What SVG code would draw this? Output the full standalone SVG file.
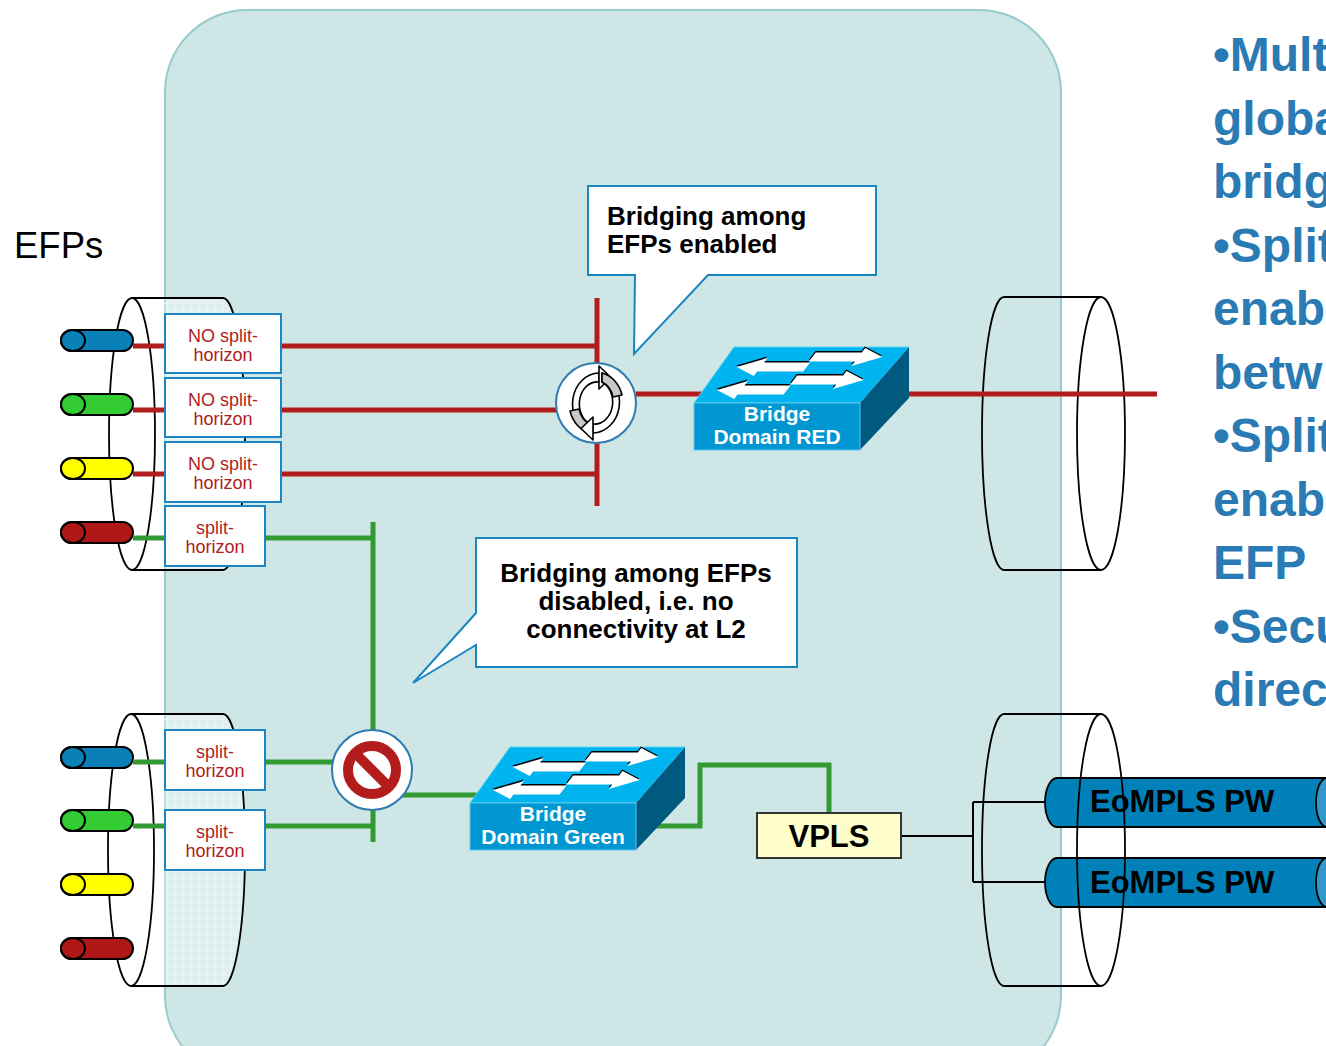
<svg xmlns="http://www.w3.org/2000/svg" width="1326" height="1046" viewBox="0 0 1326 1046">
  <style>
    .lbl { font-family: "Liberation Sans", Arial, sans-serif; }
    .box { fill: #ffffff; stroke: #1a86c0; stroke-width: 2; }
    .boxtxt { font-family: "Liberation Sans", Arial, sans-serif; font-size: 18px; fill: #b01c1c; text-anchor: middle; }
    .cyl { fill: none; stroke: #000; stroke-width: 1.8; }
    .efp { stroke: #000; stroke-width: 2; }
    .red { fill: none; stroke: #b21c1c; stroke-width: 5; }
    .grn { fill: none; stroke: #339933; stroke-width: 5; }
    .blk { fill: none; stroke: #000; stroke-width: 2; }
    .callout { fill: #ffffff; stroke: #1a86c0; stroke-width: 2; }
    .cotxt { font-family: "Liberation Sans", Arial, sans-serif; font-size: 26px; font-weight: bold; fill: #000; }
    .swtxt { font-family: "Liberation Sans", Arial, sans-serif; font-size: 21px; font-weight: bold; fill: #ffffff; text-anchor: middle; }
    .pw { fill: #0080b8; stroke: #000; stroke-width: 1.8; }
    .pwtxt { font-family: "Liberation Sans", Arial, sans-serif; font-size: 31px; font-weight: bold; fill: #000; }
    .side { font-family: "Liberation Sans", Arial, sans-serif; font-size: 48px; font-weight: bold; fill: #2a7ab4; }
    .ring { fill: #ffffff; stroke: #2d7bb0; stroke-width: 2; }
  </style>
  <defs>
    <pattern id="grid" width="8" height="8" patternUnits="userSpaceOnUse">
      <rect width="8" height="8" fill="#ffffff" fill-opacity="0.35"/>
      <path d="M8 0V8M0 8H8" stroke="#ffffff" stroke-width="1" stroke-opacity="0.7"/>
    </pattern>
    <!-- arrow pointing left, tip at origin -->
    <polygon id="arrL" points="0,0 24,-9 24,-4.5 70,-4.5 70,4.5 24,4.5 24,9"/>
    <!-- switch icon: front face top-left at (0,56) -->
    <g id="switch">
      <polygon points="40,0 215,0 166,56 0,56" fill="#00b4f0" stroke="#5fd0f5" stroke-width="1"/>
      <polygon points="166,56 215,0 215,51 166,103" fill="#005a80"/>
      <rect x="0" y="56" width="166" height="47" fill="#0096d2" stroke="#5fc6ee" stroke-width="1"/>
      <g transform="translate(42,0) skewX(-37.5)">
        <g fill="#000">
          <use href="#arrL" transform="translate(14.5,18.5)"/>
          <use href="#arrL" transform="translate(12.5,41.5)"/>
          <use href="#arrL" transform="translate(152.5,8.5) rotate(180)"/>
          <use href="#arrL" transform="translate(151.5,31.5) rotate(180)"/>
        </g>
        <g fill="#ffffff">
          <use href="#arrL" transform="translate(16,20)"/>
          <use href="#arrL" transform="translate(14,43)"/>
          <use href="#arrL" transform="translate(154,10) rotate(180)"/>
          <use href="#arrL" transform="translate(153,33) rotate(180)"/>
        </g>
      </g>
    </g>
    <!-- one half of the circular-arrows glyph -->
    <g id="halfLoop" stroke="#000" stroke-width="1.6" stroke-linejoin="round">
      <path d="M 3 -30 A 27 31 0 0 0 -6 30 L -6 21 A 18 22 0 0 1 3 -21 Z" fill="#ffffff"/>
      <path d="M -26 8 A 27 31 0 0 0 -6 30 L -6 21 A 18 22 0 0 1 -17 6 Z" fill="#c8c8c8"/>
      <polygon points="3,-37 15,-25.5 3,-14" fill="#ffffff"/>
    </g>
  </defs>

  <!-- device boundary -->
  <rect id="device" x="165" y="10" width="896" height="1068" rx="82" fill="#cfe6e7" stroke="#96cccc" stroke-width="2"/>

  <!-- upper-right port cylinder -->
  <g id="port-right-upper" class="cyl">
    <path d="M1004 297 A22 136.5 0 0 0 1004 570 H1101"/>
    <path d="M1004 297 H1101"/>
    <ellipse cx="1101" cy="433.5" rx="24" ry="136.5"/>
  </g>

  <!-- left port cylinders -->
  <g id="port-left-upper">
    <path d="M132 298 H223 A22 136 0 0 1 223 570 H132 Z" fill="url(#grid)" stroke="#000" stroke-width="1.8"/>
    <ellipse cx="132" cy="434" rx="23" ry="136" fill="#ffffff" stroke="#000" stroke-width="1.8"/>
  </g>
  <g id="port-left-lower">
    <path d="M132 714 H223 A22 136 0 0 1 223 986 H132 Z" fill="url(#grid)" stroke="#000" stroke-width="1.8"/>
    <ellipse cx="131" cy="850" rx="23" ry="136" fill="#ffffff" stroke="#000" stroke-width="1.8"/>
  </g>

  <!-- EFP tubes -->
  <g id="efp-upper-blue" class="efp" fill="#0a80b8"><rect x="61" y="330" width="72" height="21" rx="10.5"/><ellipse cx="73" cy="340.5" rx="12" ry="10.5"/></g>
  <g id="efp-upper-green" class="efp" fill="#33cc33"><rect x="61" y="394" width="72" height="21" rx="10.5"/><ellipse cx="73" cy="404.5" rx="12" ry="10.5"/></g>
  <g id="efp-upper-yellow" class="efp" fill="#ffff00"><rect x="61" y="458" width="72" height="21" rx="10.5"/><ellipse cx="73" cy="468.5" rx="12" ry="10.5"/></g>
  <g id="efp-upper-red" class="efp" fill="#b01818"><rect x="61" y="522" width="72" height="21" rx="10.5"/><ellipse cx="73" cy="532.5" rx="12" ry="10.5"/></g>
  <g id="efp-lower-blue" class="efp" fill="#0a80b8"><rect x="61" y="747" width="72" height="21" rx="10.5"/><ellipse cx="73" cy="757.5" rx="12" ry="10.5"/></g>
  <g id="efp-lower-green" class="efp" fill="#33cc33"><rect x="61" y="810" width="72" height="21" rx="10.5"/><ellipse cx="73" cy="820.5" rx="12" ry="10.5"/></g>
  <g id="efp-lower-yellow" class="efp" fill="#ffff00"><rect x="61" y="874" width="72" height="21" rx="10.5"/><ellipse cx="73" cy="884.5" rx="12" ry="10.5"/></g>
  <g id="efp-lower-red" class="efp" fill="#b01818"><rect x="61" y="938" width="72" height="21" rx="10.5"/><ellipse cx="73" cy="948.5" rx="12" ry="10.5"/></g>

  <!-- connectors -->
  <g id="connectors">
    <path class="red" d="M133 346 H597 M133 410 H597 M133 474 H597 M597 298 V506"/>
    <path class="red" d="M636 394 H1157"/>
    <path class="grn" d="M133 538 H373 M373 522 V842"/>
    <path class="grn" d="M133 762 H372 M133 826 H373"/>
    <path class="grn" d="M372 795 H500"/>
    <path class="grn" d="M620 826 H700 V765 H829 V813"/>
    <path class="blk" d="M901 836 H973 M973 802 V882 M973 802 H1046 M973 882 H1046"/>
  </g>

  <!-- split-horizon markers -->
  <g id="sh-1"><rect class="box" x="165" y="314" width="116" height="59"/><text class="boxtxt" x="223" y="342">NO split-</text><text class="boxtxt" x="223" y="361">horizon</text></g>
  <g id="sh-2"><rect class="box" x="165" y="378" width="116" height="59"/><text class="boxtxt" x="223" y="406">NO split-</text><text class="boxtxt" x="223" y="425">horizon</text></g>
  <g id="sh-3"><rect class="box" x="165" y="442" width="116" height="60"/><text class="boxtxt" x="223" y="470">NO split-</text><text class="boxtxt" x="223" y="489">horizon</text></g>
  <g id="sh-4"><rect class="box" x="165" y="506" width="100" height="60"/><text class="boxtxt" x="215" y="534">split-</text><text class="boxtxt" x="215" y="553">horizon</text></g>
  <g id="sh-5"><rect class="box" x="165" y="730" width="100" height="60"/><text class="boxtxt" x="215" y="758">split-</text><text class="boxtxt" x="215" y="777">horizon</text></g>
  <g id="sh-6"><rect class="box" x="165" y="810" width="100" height="60"/><text class="boxtxt" x="215" y="838">split-</text><text class="boxtxt" x="215" y="857">horizon</text></g>

  <!-- bridging enabled glyph -->
  <g id="bridging-on" transform="translate(596,403)">
    <circle class="ring" r="40"/>
    <use href="#halfLoop"/>
    <use href="#halfLoop" transform="rotate(180)"/>
  </g>

  <!-- bridging disabled glyph -->
  <g id="bridging-off" transform="translate(372,770)">
    <circle class="ring" r="40"/>
    <circle r="24" fill="none" stroke="#b21c1c" stroke-width="10"/>
    <line x1="-17" y1="-17" x2="17" y2="17" stroke="#b21c1c" stroke-width="10"/>
  </g>

  <!-- bridge domains -->
  <g id="bd-red">
    <use href="#switch" transform="translate(694,347)"/>
    <text class="swtxt" x="777" y="421">Bridge</text>
    <text class="swtxt" x="777" y="444">Domain RED</text>
  </g>
  <g id="bd-green">
    <use href="#switch" transform="translate(470,747)"/>
    <text class="swtxt" x="553" y="821">Bridge</text>
    <text class="swtxt" x="553" y="844">Domain Green</text>
  </g>

  <!-- callouts -->
  <g id="note-enabled">
    <path class="callout" d="M588 186 H876 V275 H708 L634 354 L635 275 H588 Z"/>
    <text class="cotxt" x="607" y="225">Bridging among</text>
    <text class="cotxt" x="607" y="253">EFPs enabled</text>
  </g>
  <g id="note-disabled">
    <path class="callout" d="M476 538 H797 V667 H476 V645 L413 683 L476 613 Z"/>
    <text class="cotxt" x="636" y="582" text-anchor="middle">Bridging among EFPs</text>
    <text class="cotxt" x="636" y="610" text-anchor="middle">disabled, i.e. no</text>
    <text class="cotxt" x="636" y="638" text-anchor="middle">connectivity at L2</text>
  </g>

  <!-- VPLS instance -->
  <g id="vpls">
    <rect x="757" y="813" width="144" height="45" fill="#ffffcc" stroke="#333" stroke-width="2"/>
    <text class="lbl" x="829" y="847" font-size="31" font-weight="bold" text-anchor="middle">VPLS</text>
  </g>

  <!-- pseudowires -->
  <g id="pw-1">
    <path class="pw" d="M1057 778 H1326 V827 H1057 A12 24.5 0 0 1 1057 778 Z"/>
    <ellipse cx="1327" cy="802.5" rx="11" ry="24.5" fill="#3399cc" stroke="#000" stroke-width="1.8"/>
    <text class="pwtxt" x="1090" y="812">EoMPLS PW</text>
  </g>
  <g id="pw-2">
    <path class="pw" d="M1057 858 H1326 V907 H1057 A12 24.5 0 0 1 1057 858 Z"/>
    <ellipse cx="1327" cy="882.5" rx="11" ry="24.5" fill="#3399cc" stroke="#000" stroke-width="1.8"/>
    <text class="pwtxt" x="1090" y="893">EoMPLS PW</text>
  </g>

  <!-- lower-right port cylinder -->
  <g id="port-right-lower" class="cyl">
    <path d="M1004 714 A22 136 0 0 0 1004 986 H1101"/>
    <path d="M1004 714 H1101"/>
    <ellipse cx="1101" cy="850" rx="24" ry="136"/>
  </g>

  <!-- labels -->
  <text id="efps-label" class="lbl" x="14" y="258" font-size="36.5" fill="#000">EFPs</text>
  <text id="notes" class="side">
    <tspan x="1213" y="71">•Mult</tspan>
    <tspan x="1213" y="134.5">globa</tspan>
    <tspan x="1213" y="198">bridg</tspan>
    <tspan x="1213" y="261.5">•Split</tspan>
    <tspan x="1213" y="325">enab</tspan>
    <tspan x="1213" y="388.5">betw</tspan>
    <tspan x="1213" y="452">•Split</tspan>
    <tspan x="1213" y="515.5">enab</tspan>
    <tspan x="1213" y="579">EFP</tspan>
    <tspan x="1213" y="642.5">•Secu</tspan>
    <tspan x="1213" y="706">direc</tspan>
  </text>
</svg>
